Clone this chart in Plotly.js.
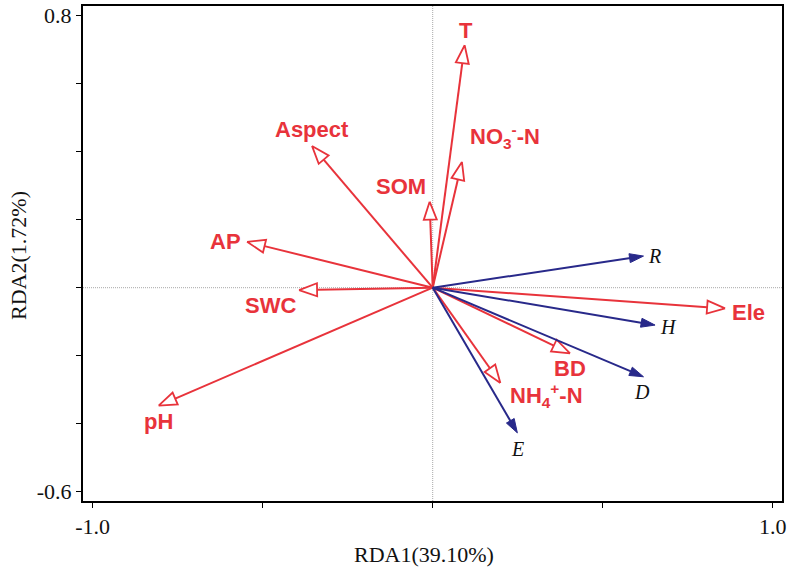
<!DOCTYPE html>
<html>
<head>
<meta charset="utf-8">
<script src="https://cdn.plot.ly/plotly-3.0.1.min.js"></script>
<style>html,body{margin:0;padding:0;background:#fff;}#chart{width:791px;height:567px;}</style>
</head>
<body>
<div id="chart"></div>
<script>
// Environmental factors (red, open arrowheads)
const envNames = ['T', 'NO<sub>3</sub><sup>-</sup>-N', 'SOM', 'Aspect', 'AP', 'SWC', 'pH', 'Ele', 'BD', 'NH<sub>4</sub><sup>+</sup>-N'];
const envRDA1 = [0.094, 0.086, -0.009, -0.355, -0.546, -0.393, -0.806, 0.860, 0.404, 0.199];
const envRDA2 = [0.713, 0.370, 0.253, 0.417, 0.135, -0.007, -0.347, -0.061, -0.193, -0.280];
// Response variables (blue, filled arrowheads)
const respNames = ['R', 'H', 'D', 'E'];
const respRDA1 = [0.620, 0.654, 0.620, 0.249];
const respRDA2 = [0.093, -0.110, -0.262, -0.427];
// Axis ticks (labelled majors; unlabelled minors every 0.5 / 0.2)
const xTickVals = [-1.0, 1.0];
const xTickText = ['-1.0', '1.0'];
const yTickVals = [-0.6, 0.8];
const yTickText = ['-0.6', '0.8'];

// Styling / label offsets (pixels) – not data
const RED = '#e8333b', NAVY = '#28298a';
const envOffsets = [[1,15],[43,25],[-29,15],[0,16],[-22,0],[-29,-15],[0,-16],[23,-4],[0,-15],[46,-13]];
const respOffsets = [[11,0],[13,-2],[-1,-15],[0,-16]];

const PX = 340; // pixels per data unit (equal scale on both axes)
const traces = [];
const annotations = [];

function addArrow(x, y, color, open, hPx, wPx, lw) {
  const L = Math.hypot(x, y);
  const ux = x / L, uy = y / L;
  const px = -uy, py = ux;
  const h = hPx / PX, w = wPx / PX / 2;
  const bx = x - ux * h, by = y - uy * h;
  traces.push({x: [0, open ? bx : bx + ux*h*0.3], y: [0, open ? by : by + uy*h*0.3], mode: 'lines',
    line: {color: color, width: lw}, hoverinfo: 'skip', showlegend: false});
  traces.push({x: [x, bx + px*w, bx - px*w, x], y: [y, by + py*w, by - py*w, y], mode: 'lines',
    fill: 'toself', fillcolor: open ? '#ffffff' : color,
    line: {color: color, width: open ? 1.8 : 1}, hoverinfo: 'skip', showlegend: false});
}

envNames.forEach((n, i) => {
  addArrow(envRDA1[i], envRDA2[i], RED, true, 18, 13, 2);
  annotations.push({x: envRDA1[i], y: envRDA2[i], xref: 'x', yref: 'y', text: n, showarrow: false,
    xshift: envOffsets[i][0], yshift: envOffsets[i][1], xanchor: 'center', yanchor: 'middle',
    font: {family: 'Liberation Sans, Arial, sans-serif', size: 22, color: RED, weight: 'bold'}});
});
respNames.forEach((n, i) => {
  addArrow(respRDA1[i], respRDA2[i], NAVY, false, 14, 9, 2);
  annotations.push({x: respRDA1[i], y: respRDA2[i], xref: 'x', yref: 'y', text: '<i>' + n + '</i>', showarrow: false,
    xshift: respOffsets[i][0], yshift: respOffsets[i][1], xanchor: 'center', yanchor: 'middle',
    font: {family: 'Liberation Serif, Times New Roman, serif', size: 20, color: '#111'}});
});

// Axis titles as annotations for precise placement
annotations.push({text: 'RDA1(39.10%)', xref: 'paper', yref: 'paper', x: 0.488, y: 0, yshift: -53, showarrow: false,
  xanchor: 'center', yanchor: 'middle', font: {family: 'Liberation Serif, Times New Roman, serif', size: 22, color: '#111'}});
annotations.push({text: 'RDA2(1.72%)', xref: 'paper', yref: 'paper', x: 0, xshift: -64, y: 0.495, textangle: -90, showarrow: false,
  xanchor: 'center', yanchor: 'middle', font: {family: 'Liberation Serif, Times New Roman, serif', size: 22, color: '#111'}});

const axisCommon = {
  showgrid: false, zeroline: false, showline: true, mirror: true, linecolor: '#000', linewidth: 2,
  ticks: 'outside', ticklen: 5, tickwidth: 1.5, tickcolor: '#000',
  tickfont: {family: 'Liberation Serif, Times New Roman, serif', size: 22, color: '#111'},
  tickmode: 'array', fixedrange: true
};

const layout = {
  width: 791, height: 567,
  margin: {l: 83, r: 9, t: 6, b: 66},
  paper_bgcolor: '#fff', plot_bgcolor: '#fff',
  showlegend: false,
  xaxis: Object.assign({}, axisCommon, {range: [-1.0285, 1.0274], tickvals: xTickVals, ticktext: xTickText,
    minor: {tickmode: 'linear', tick0: 0, dtick: 0.5, ticks: 'outside', ticklen: 5, tickwidth: 1.5, tickcolor: '#000', showgrid: false}}),
  yaxis: Object.assign({}, axisCommon, {range: [-0.6274, 0.8285], tickvals: yTickVals, ticktext: yTickText,
    minor: {tickmode: 'linear', tick0: 0, dtick: 0.2, ticks: 'outside', ticklen: 5, tickwidth: 1.5, tickcolor: '#000', showgrid: false}}),
  shapes: [
    {type: 'line', xref: 'x', yref: 'paper', x0: 0, x1: 0, y0: 0, y1: 1, layer: 'below', line: {color: '#a8a8a8', width: 1, dash: '1px,1px'}},
    {type: 'line', xref: 'paper', yref: 'y', x0: 0, x1: 1, y0: 0, y1: 0, layer: 'below', line: {color: '#a8a8a8', width: 1, dash: '1px,1px'}}
  ],
  annotations: annotations
};

Plotly.newPlot('chart', traces, layout, {displayModeBar: false, staticPlot: true});
</script>
</body>
</html>
